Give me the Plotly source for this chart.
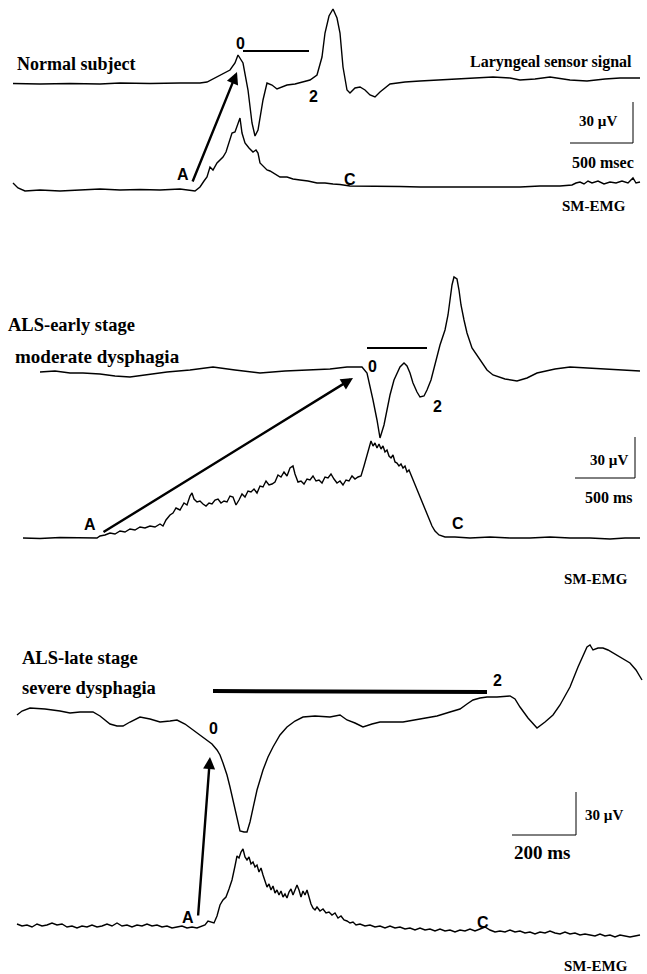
import plotly.graph_objects as go

# ---------------- Normal subject ----------------
normal_lar_t = [13, 40, 70, 100, 120, 150, 180, 200, 207, 217, 225, 230, 235, 238, 243, 248, 252, 255, 258,
                263, 267, 272, 277, 287, 295, 303, 310, 317, 322, 325, 329, 333, 337, 340, 343, 347, 350, 355,
                360, 365, 370, 375, 380, 390, 405, 420, 440, 453, 470, 493, 510, 520, 535, 550, 570, 587, 605,
                620, 640]
normal_lar_v = [83.5, 84, 83.5, 84, 83, 83.5, 83, 83, 82, 77, 73, 70, 63, 55, 63, 90, 123, 136, 130,
                100, 83, 85, 89, 85, 84, 82, 80, 75, 57, 33, 16, 9, 18, 33, 67, 90, 93, 88,
                87, 90, 95, 97, 92, 84, 82, 81, 80, 79, 78, 77, 78, 80, 79, 77, 80, 81, 79,
                78, 78]

normal_emg_t = [13, 18, 25, 40, 60, 80, 100, 120, 140, 160, 180, 195, 200, 204, 207, 210, 213, 217, 220, 223,
                226, 230, 232, 235, 237, 240, 242, 245, 249, 253, 256, 258, 260, 263, 267, 270, 273, 277, 280,
                287, 293, 300, 308, 317, 325, 333, 340, 350, 360, 380, 400, 420, 440, 460, 480, 500, 520, 540,
                560, 572, 576, 580, 584, 588, 592, 598, 604, 610, 616, 622, 628, 633, 636, 640]
normal_emg_v = [183, 188, 191, 190, 191, 190, 189, 190, 189.5, 190, 189, 191, 187, 181, 177, 167, 170, 163,
                160, 157, 152, 140, 133, 132, 127, 118, 133, 143, 148, 152, 150, 153, 163, 166, 170, 171,
                173, 175, 177, 177, 179, 180, 181, 183, 183, 184, 184.5, 186, 186, 186, 186.5, 187, 187,
                187, 187, 187, 187, 186, 186, 185, 183, 182, 184, 181, 183, 181, 184, 182, 183, 181, 183,
                178, 183, 182]

# ---------------- ALS early stage ----------------
early_lar_t = [40, 55, 70, 83, 100, 115, 130, 145, 167, 190, 213, 235, 260, 285, 310, 330, 347, 362, 367,
               370, 373, 377, 380, 384, 387, 390, 394, 400, 404, 407, 410, 413, 417, 420, 424, 427, 431, 435,
               440, 445, 448, 450, 452, 454, 457, 459, 461, 464, 467, 472, 480, 487, 493, 505, 517, 527, 537,
               555, 570, 585, 603, 620, 640]
early_lar_v = [372, 371, 373, 373, 374, 376, 377, 375, 372, 370, 367, 370, 373, 371, 370, 369, 367, 367, 373,
               385, 400, 420, 438, 425, 410, 395, 380, 367, 363, 366, 373, 383, 392, 397, 396, 390, 380, 363,
               345, 330, 315, 300, 285, 277, 279, 290, 305, 320, 333, 348, 360, 370, 375, 379, 381, 378, 373,
               369, 367, 368, 369, 370, 371]

early_emg_t = [23, 40, 60, 80, 97, 100, 105, 110, 115, 120, 125, 130, 135, 140, 145, 150, 155, 160, 163,
               166, 170, 173, 176, 180, 184, 187, 190, 192, 194, 197, 200, 203, 206, 209, 212, 215, 218, 221,
               224, 227, 230, 233, 236, 239, 242, 245, 248, 251, 254, 257, 260, 263, 266, 269, 272, 275, 278,
               281, 284, 287, 290, 293, 295, 298, 301, 304, 307, 310, 313, 316, 319, 322, 325, 328, 331, 334,
               337, 340, 343, 346, 349, 352, 355, 358, 361, 364, 367, 369, 371, 373, 375, 377, 379, 381, 383,
               385, 387, 389, 391, 393, 395, 397, 399, 401, 403, 405, 407, 409, 411, 413, 415, 417, 420, 423,
               426, 429, 432, 435, 439, 445, 455, 470, 490, 510, 530, 550, 570, 590, 610, 625, 640]
early_emg_v = [538, 538.5, 537.5, 538, 538, 536, 535, 533, 534, 531, 532, 529, 530, 527, 528, 526, 527, 524, 526,
               520, 515, 513, 508, 510, 503, 505, 496, 493, 499, 502, 501, 504, 506, 503, 504, 500, 499, 503,
               501, 502, 496, 497, 505, 500, 494, 497, 491, 492, 489, 493, 486, 487, 481, 485, 484, 482, 475,
               477, 472, 476, 468, 466, 474, 482, 481, 484, 479, 480, 476, 481, 480, 483, 477, 478, 474, 479,
               483, 481, 485, 480, 481, 476, 479, 477, 476, 466, 456, 447, 441, 446, 443, 448, 444, 449, 446,
               452, 450, 456, 458, 455, 462, 463, 466, 464, 468, 466, 472, 470, 475, 480, 485, 490, 497, 505,
               512, 519, 526, 531, 535, 537, 537, 538, 537, 538, 538, 537, 538, 538, 539, 538, 538]

# ---------------- ALS late stage ----------------
late_lar_t = [17, 22, 30, 45, 60, 70, 80, 93, 100, 110, 117, 123, 130, 140, 150, 160, 170, 177, 185, 193, 200,
              207, 212, 217, 220, 223, 227, 230, 234, 237, 240, 244, 247, 250, 253, 257, 260, 263, 268, 273,
              280, 287, 295, 303, 315, 330, 340, 347, 355, 363, 372, 380, 392, 403, 420, 437, 450, 460, 467,
              473, 480, 487, 497, 510, 515, 520, 528, 537, 545, 553, 560, 570, 578, 587, 590, 593, 598, 603,
              608, 613, 620, 630, 636, 642]
late_lar_v = [715, 711, 708, 709, 711, 713, 712, 712, 716, 724, 726, 726, 722, 717, 719, 722, 721, 720, 724, 730,
              735, 740, 744, 750, 755, 763, 775, 787, 805, 820, 831, 832, 832, 822, 807, 790, 780, 770, 757,
              747, 735, 727, 721, 717, 716, 717, 715, 720, 723, 727, 724, 722, 722, 722, 719, 716, 712, 709,
              704, 700, 698, 697, 697, 696, 699, 707, 718, 728, 722, 715, 705, 687, 667, 647, 645, 650, 648,
              648, 650, 653, 657, 663, 670, 680]

late_emg_t = [17, 22, 27, 32, 37, 42, 47, 52, 57, 62, 67, 72, 77, 82, 87, 92, 97, 102, 107, 112, 117, 122, 127,
              132, 137, 142, 147, 152, 157, 162, 167, 172, 177, 182, 187, 192, 197, 202, 205, 208, 211, 214,
              217, 220, 223, 226, 229, 232, 235, 237, 239, 241, 243, 245, 247, 249, 251, 253, 255, 257, 259,
              261, 263, 265, 267, 269, 271, 273, 275, 277, 279, 281, 283, 285, 287, 289, 291, 293, 295, 297,
              299, 301, 303, 305, 307, 309, 311, 313, 315, 317, 320, 323, 326, 329, 332, 335, 338, 341, 344,
              347, 350, 353, 356, 360, 365, 370, 375, 380, 385, 390, 395, 400, 405, 410, 415, 420, 425, 430,
              435, 440, 445, 450, 455, 460, 465, 470, 475, 480, 485, 490, 495, 500, 505, 510, 515, 520, 525,
              530, 535, 540, 545, 550, 555, 560, 565, 570, 575, 580, 585, 590, 595, 600, 605, 610, 615, 620,
              625, 630, 635, 640]
late_emg_v = [924, 926, 925, 927, 924, 926, 925, 923, 925, 924, 927, 926, 928, 926, 927, 925, 927, 926, 924, 926,
              923, 926, 925, 927, 925, 926, 924, 926, 925, 927, 926, 928, 927, 926, 928, 927, 928, 926, 925,
              921, 922, 923, 916, 905, 900, 897, 889, 880, 866, 856, 858, 852, 849, 857, 860, 857, 864, 862,
              867, 865, 872, 868, 875, 880, 887, 884, 890, 886, 893, 890, 895, 891, 897, 894, 898, 892, 889,
              895, 889, 885, 890, 897, 891, 895, 890, 898, 904, 908, 910, 907, 911, 909, 913, 912, 915, 913,
              918, 916, 920, 921, 923, 922, 925, 924, 926, 925, 927, 926, 928, 926, 928, 927, 929, 928, 930,
              928, 930, 929, 931, 929, 931, 930, 932, 930, 931, 929, 931, 929, 927, 930, 932, 931, 932, 930,
              932, 931, 933, 932, 934, 932, 933, 931, 933, 934, 932, 934, 933, 935, 934, 935, 936, 934, 936,
              935, 937, 935, 936, 937, 936, 935]

SERIF = "Liberation Serif"
SANS = "Liberation Sans"

fig = go.Figure()
traces = [
    (normal_lar_t, normal_lar_v), (normal_emg_t, normal_emg_v),
    (early_lar_t, early_lar_v), (early_emg_t, early_emg_v),
    (late_lar_t, late_lar_v), (late_emg_t, late_emg_v),
]
for t, v in traces:
    fig.add_trace(go.Scatter(x=t, y=v, mode="lines",
                             line=dict(color="black", width=1.4),
                             hoverinfo="skip", showlegend=False))

annotations = []


def text(x, y, s, size, family=SERIF, anchor="left"):
    annotations.append(dict(x=x, y=y, xref="x", yref="y", text=f"<b>{s}</b>",
                            showarrow=False, xanchor=anchor, yanchor="middle",
                            font=dict(family=family, size=size, color="black")))


def arrow(x0, y0, x1, y1):
    annotations.append(dict(x=x1, y=y1, ax=x0, ay=y0, xref="x", yref="y", axref="x", ayref="y",
                            text="", showarrow=True, arrowhead=2, arrowsize=1.0,
                            arrowwidth=2.4, arrowcolor="black"))


shapes = []


def seg(x0, y0, x1, y1, w):
    shapes.append(dict(type="line", x0=x0, y0=y0, x1=x1, y1=y1, xref="x", yref="y",
                       line=dict(color="black", width=w)))


# Normal subject panel
text(15, 64, "Normal subject", 18)
text(468, 62, "Laryngeal sensor signal", 16)
text(577, 121, "30 µV", 15)
text(570, 162, "500 msec", 16)
text(628, 206, "SM-EMG", 15, anchor="right")
text(240, 43, "0", 16, SANS, anchor="center")
text(313, 96, "2", 16, SANS, anchor="center")
text(183, 174, "A", 16, SANS, anchor="center")
text(350, 179, "C", 16, SANS, anchor="center")
seg(243, 51, 309, 51, 2)
seg(633, 102, 633, 143, 1)
seg(570, 143, 633, 143, 1)
arrow(192, 183, 237, 72)

# ALS early stage panel
text(6, 325, "ALS-early stage", 18.5)
text(13, 356, "moderate dysphagia", 19)
text(588, 460, "30 µV", 15)
text(583, 497, "500 ms", 16)
text(630, 579, "SM-EMG", 15, anchor="right")
text(372, 366, "0", 16, SANS, anchor="center")
text(437, 406, "2", 16, SANS, anchor="center")
text(90, 524, "A", 16, SANS, anchor="center")
text(458, 523, "C", 16, SANS, anchor="center")
seg(367, 348, 427, 348, 2)
seg(635, 437, 635, 478, 1)
seg(575, 478, 635, 478, 1)
arrow(102, 533, 353, 378)

# ALS late stage panel
text(20, 658, "ALS-late stage", 18.5)
text(20, 688, "severe dysphagia", 18.5)
text(583, 815, "30 µV", 15)
text(512, 852, "200 ms", 19)
text(630, 966, "SM-EMG", 15, anchor="right")
text(213, 728, "0", 16, SANS, anchor="center")
text(497, 680, "2", 16, SANS, anchor="center")
text(188, 917, "A", 16, SANS, anchor="center")
text(483, 922, "C", 16, SANS, anchor="center")
seg(213, 691, 487, 692, 4)
seg(576, 792, 576, 835, 1)
seg(512, 835, 576, 835, 1)
arrow(198, 917, 210, 757)

fig.update_layout(
    width=647, height=974,
    margin=dict(l=0, r=0, t=0, b=0),
    paper_bgcolor="white", plot_bgcolor="white",
    xaxis=dict(range=[0, 647], visible=False, fixedrange=True),
    yaxis=dict(range=[974, 0], visible=False, fixedrange=True),
    annotations=annotations, shapes=shapes,
)
fig.write_html("out.html")
